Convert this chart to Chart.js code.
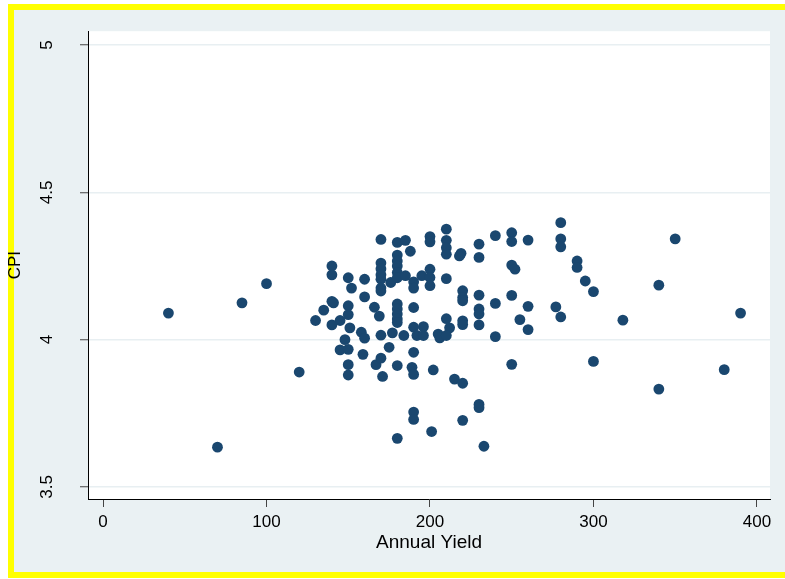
<!DOCTYPE html>
<html lang="en">
<head>
  <meta charset="UTF-8">
  <title>CPI vs Annual Yield</title>
  <script src="https://cdn.jsdelivr.net/npm/chart.js"></script>
  <style>
    body { margin: 0; background: #ffffff; }
    #frame {
      position: absolute; left: 8px; top: 4px; width: 777px; height: 574px;
      box-sizing: border-box; background: #eaf1f3;
      border-top: 6px solid #ffff00; border-left: 6px solid #ffff00; border-bottom: 6px solid #ffff00;
    }
    #chart { position: absolute; left: 0; top: 0; }
  </style>
</head>
<body>
<div id="frame"></div>
<canvas id="chart" width="785" height="579"></canvas>

<script>
  // values
  const annualYield = [
    40, 70, 85, 100, 120, 130, 135, 140, 140, 140, 141, 140, 145, 150, 152, 150, 150, 151, 148, 145,
    150, 150, 150, 160, 160, 158, 160, 159, 166, 169, 170, 170, 170, 170, 170, 170, 170, 170, 167, 170,
    171, 175, 177, 176, 180, 180, 180, 180, 180, 180, 180, 180, 180, 180, 180, 180, 180, 185, 185, 184,
    188, 190, 190, 190, 190, 192, 196, 196, 190, 189, 190, 190, 190, 195, 200, 200, 200, 200, 200, 202,
    201, 205, 206, 210, 210, 210, 210, 210, 210, 212, 210, 215, 219, 218, 220, 220, 220, 220, 220, 220,
    220, 230, 230, 230, 230, 230, 230, 230, 230, 233, 240, 240, 240, 250, 250, 250, 252, 250, 250, 255,
    260, 260, 260, 277, 280, 280, 280, 280, 290, 290, 295, 300, 300, 318, 340, 340, 350, 380, 390
  ];
  const cpi = [
    4.09, 3.635, 4.125, 4.19, 3.89, 4.065, 4.10, 4.25, 4.22, 4.13, 4.125, 4.05, 4.065, 4.21, 4.175, 4.115, 4.085, 4.04, 4.00, 3.965,
    3.967, 3.915, 3.88, 4.205, 4.145, 4.025, 4.005, 3.95, 4.11, 4.08, 4.34, 4.26, 4.24, 4.22, 4.205, 4.175, 4.165, 4.015, 3.915, 3.937,
    3.875, 3.974, 4.023, 4.194, 4.33, 4.287, 4.267, 4.25, 4.228, 4.21, 4.121, 4.104, 4.087, 4.07, 4.058, 3.912, 3.665, 4.337, 4.217, 4.014,
    4.30, 4.196, 4.175, 4.109, 4.042, 4.014, 4.014, 4.044, 3.957, 3.906, 3.882, 3.754, 3.729, 4.217, 4.35, 4.332, 4.239, 4.211, 4.183, 3.897,
    3.688, 4.019, 4.006, 4.375, 4.337, 4.312, 4.29, 4.207, 4.071, 4.04, 4.014, 3.866, 4.293, 4.284, 4.166, 4.143, 4.132, 4.064, 4.051, 3.852,
    3.726, 4.324, 4.279, 4.151, 4.104, 4.087, 4.05, 3.78, 3.769, 3.638, 4.353, 4.123, 4.01, 4.363, 4.333, 4.253, 4.239, 4.15, 3.916, 4.068,
    4.338, 4.113, 4.034, 4.111, 4.397, 4.342, 4.315, 4.077, 4.267, 4.245, 4.199, 4.163, 3.926, 4.066, 4.185, 3.832, 4.342, 3.898, 4.09
  ];
  const xTicks = [0, 100, 200, 300, 400];
  const yTicks = [3.5, 4, 4.5, 5];

  const font = "'Liberation Sans', Arial, sans-serif";

  const plotBackground = {
    id: 'plotBackground',
    beforeDraw(chart) {
      const { ctx, chartArea: a } = chart;
      ctx.save();
      ctx.fillStyle = '#ffffff';
      ctx.fillRect(a.left, a.top, a.right - a.left, a.bottom - a.top);
      ctx.restore();
    }
  };

  new Chart(document.getElementById('chart'), {
    type: 'scatter',
    data: {
      datasets: [{
        data: annualYield.map((x, i) => ({ x: x, y: cpi[i] })),
        backgroundColor: '#1a476f',
        borderWidth: 0,
        pointRadius: 5.4,
        pointHoverRadius: 5.4
      }]
    },
    options: {
      responsive: false,
      animation: false,
      layout: { padding: { top: 30, right: 15, bottom: 0, left: 0 } },
      plugins: { legend: { display: false }, tooltip: { enabled: false } },
      scales: {
        x: {
          type: 'linear',
          min: -9.2,
          max: 408,
          afterBuildTicks: s => { s.ticks = xTicks.map(v => ({ value: v })); },
          afterFit: s => { s.height = 80; },
          grid: { drawOnChartArea: false, tickLength: 8, tickColor: '#444', tickWidth: 1 },
          border: { color: '#000', width: 1 },
          ticks: { color: '#000', font: { family: font, size: 17 }, padding: 5, callback: v => String(v) },
          title: { display: true, text: 'Annual Yield', color: '#000', font: { family: font, size: 19 }, padding: { top: 0, bottom: 25 } }
        },
        y: {
          type: 'linear',
          min: 3.459,
          max: 5.047,
          afterBuildTicks: s => { s.ticks = yTicks.map(v => ({ value: v })); },
          afterFit: s => { s.width = 88; },
          grid: { color: '#e8eff2', lineWidth: 1.5, tickLength: 8, tickColor: '#444', tickWidth: 1 },
          border: { color: '#000', width: 1 },
          ticks: {
            color: '#000', font: { family: font, size: 17 }, padding: 21,
            minRotation: 90, maxRotation: 90, crossAlign: 'center',
            callback: v => String(v)
          },
          title: { display: true, text: 'CPI', color: '#000', font: { family: font, size: 17 }, padding: { top: 5, bottom: 0 } }
        }
      }
    },
    plugins: [plotBackground]
  });
</script>
</body>
</html>
